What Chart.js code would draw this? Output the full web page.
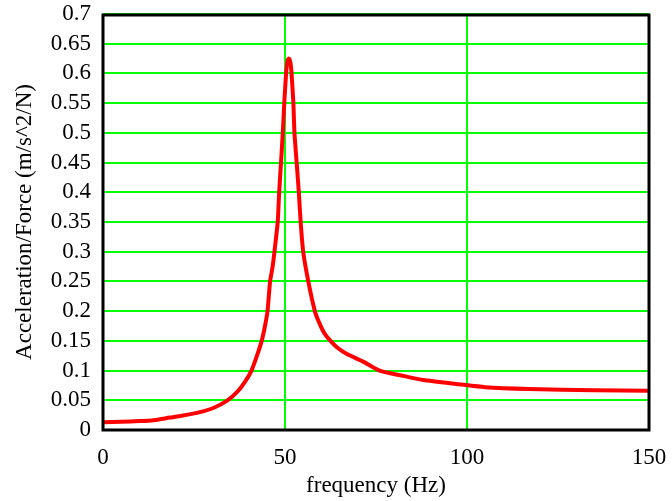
<!DOCTYPE html>
<html>
<head>
<meta charset="utf-8">
<script src="https://cdn.jsdelivr.net/npm/chart.js@4/dist/chart.umd.min.js"></script>
<style>
   html, body { margin: 0; padding: 0; background: #fff; }
   #wrap { width: 672px; height: 501px; }
</style>
</head>
<body>
<div id="wrap"><canvas id="frf"></canvas></div>
<script>
   // frequency response
   var freq = [0, 5, 10, 13.4, 18.4, 21.6, 26.6, 30.3, 34.2, 37, 39, 40.8, 42.3, 43.6, 44.5, 45.2, 45.9,
      46.6, 47.1, 48, 48.4, 48.9, 49.4, 49.8, 50.3, 50.7, 51.1, 51.5, 51.8, 52.3, 52.6, 53.2, 53.8,
      54.3, 55, 56.4, 58.2, 59.3, 60.8, 62.5, 64.5, 67, 71.5, 76, 82.5, 88, 97.7, 105, 117, 135, 150];
   var accel = [0.013, 0.014, 0.015, 0.016, 0.021, 0.024, 0.030, 0.037, 0.050, 0.065, 0.081, 0.100,
      0.125, 0.150, 0.175, 0.200, 0.250, 0.275, 0.300, 0.350, 0.400, 0.450, 0.500, 0.550, 0.600, 0.622, 0.625,
      0.618, 0.600, 0.550, 0.500, 0.450, 0.400, 0.350, 0.300, 0.250, 0.200, 0.182, 0.163, 0.150, 0.138,
      0.128, 0.115, 0.100, 0.091, 0.084, 0.077, 0.072, 0.069, 0.067, 0.066];

   var xTicks = [0, 50, 100, 150];
   var yMax = 0.7, yStep = 0.05;

   var pts = freq.map(function (f, i) { return { x: f, y: accel[i] }; });

   // black box round the plot area
   var frame = {
      id: 'frame',
      afterDraw: function (chart) {
         var a = chart.chartArea, c = chart.ctx;
         c.save();
         c.strokeStyle = '#000';
         c.lineWidth = 3;
         c.strokeRect(a.left, a.top + 1, a.right - a.left, a.bottom - a.top - 1);
         c.restore();
      }
   };

   var font = { family: '"Liberation Serif", "Times New Roman", serif', size: 23 };

   new Chart(document.getElementById('frf'), {
      type: 'scatter',
      data: {
         datasets: [{
            data: pts,
            showLine: true,
            borderColor: '#ff0000',
            borderWidth: 4,
            pointRadius: 0,
            tension: 0.2
         }]
      },
      options: {
         responsive: true,
         maintainAspectRatio: false,
         animation: false,
         layout: { padding: { top: 14, right: 23, left: 0, bottom: 0 } },
         plugins: { legend: { display: false }, tooltip: { enabled: false } },
         scales: {
            x: {
               type: 'linear', min: 0, max: 150,
               afterFit: function (s) { s.height = 71; s.paddingRight = 0; s.paddingLeft = 0; },
               afterBuildTicks: function (s) { s.ticks = xTicks.map(function (v) { return { value: v }; }); },
               grid: { color: '#00ff00', lineWidth: 2, drawTicks: false },
               border: { display: false },
               ticks: { color: '#000', font: font, padding: 14, maxRotation: 0, autoSkip: false },
               title: { display: true, text: 'frequency (Hz)', color: '#000', font: font, padding: { top: 4, bottom: 1 } }
            },
            y: {
               type: 'linear', min: 0, max: yMax,
               afterFit: function (s) { s.width = 103; s.paddingTop = 0; s.paddingBottom = 0; },
               grid: { color: '#00ff00', lineWidth: 2, drawTicks: false },
               border: { display: false },
               ticks: {
                  color: '#000', font: font, padding: 12, stepSize: yStep, autoSkip: false,
                  callback: function (v) { return String(Math.round(v * 100) / 100); }
               },
               title: { display: true, text: 'Acceleration/Force (m/s^2/N)', color: '#000', font: font, padding: { top: 11, bottom: 0 } }
            }
         }
      },
      plugins: [frame]
   });
</script>
</body>
</html>
